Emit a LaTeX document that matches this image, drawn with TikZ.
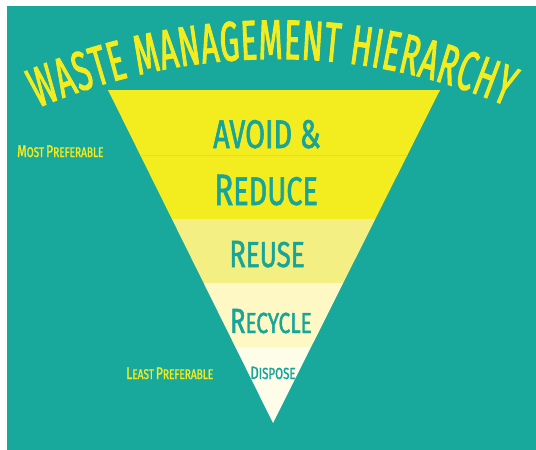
\documentclass[tikz,border=0pt]{standalone}
\usepackage{fontspec}
\usetikzlibrary{decorations.text}
\newfontfamily\handfont[FakeStretch=0.72, FakeBold=1.4]{Fira Sans}
\newfontfamily\titlefont[FakeStretch=0.55, FakeBold=1.6]{Fira Sans}
\definecolor{bgteal}{HTML}{19A89C}
\definecolor{txtteal}{HTML}{17A59A}
\definecolor{yel}{HTML}{F3EC1F}
\definecolor{yelline}{HTML}{E6DF1C}
\definecolor{reusecol}{HTML}{F3EF82}
\definecolor{recyclecol}{HTML}{FEF8C4}
\definecolor{disposecol}{HTML}{FEFDEA}
\newcommand\fs[2]{{\fontsize{#1}{#1}\selectfont #2}}
\tikzset{
  bandtext/.style={inner sep=0pt, anchor=base, text=txtteal, font=\handfont},
  sidetext/.style={inner sep=0pt, anchor=base west, text=yel, font=\handfont},
}
\begin{document}
\begin{tikzpicture}[x=1pt,y=-1pt]
\useasboundingbox (0,0) rectangle (536,450);
\fill[white] (0,0) rectangle (536,450);
\fill[bgteal] (7,6) rectangle (536,450);
% pyramid bands
\begin{scope}
\clip (108,90) -- (440,90) -- (273,423) -- cycle;
\fill[yel] (100,85) rectangle (450,219);
\fill[reusecol] (100,219) rectangle (450,283);
\fill[recyclecol] (100,283) rectangle (450,347);
\fill[disposecol] (100,347) rectangle (450,430);
\draw[yelline, line width=0.8pt] (100,155) -- (450,155);
\end{scope}
% title along arc
\path[decorate, decoration={text along path, text align=fit to path,
  text color=yel,
  text={|\titlefont\fontsize{56}{56}\selectfont|WASTE MANAGEMENT HIERARCHY}}]
  (38,108) .. controls (188,44) and (357,42) .. (506,106);
% band labels
\node[bandtext] (avoid) at (267,148) {\fs{40}{AVOID \&}};
\node[bandtext] (reduce) at (266,205) {\fs{44}{R}\fs{40}{EDUCE}};
\node[bandtext] (reuse) at (267,267) {\fs{38}{R}\fs{36}{EUSE}};
\node[bandtext] (recycle) at (271,333) {\fs{35}{R}\fs{29}{ECYCLE}};
\node[bandtext] (dispose) at (273,379) {\fs{18}{D}\fs{16}{ISPOSE}};
% side labels
\node[sidetext] (most) at (17,157) {\fs{17}{M}\fs{14}{OST} \fs{17}{P}\fs{14}{REFERABLE}};
\node[sidetext] (least) at (126,379) {\fs{17}{L}\fs{14}{EAST} \fs{17}{P}\fs{14}{REFERABLE}};
\end{tikzpicture}
\end{document}
